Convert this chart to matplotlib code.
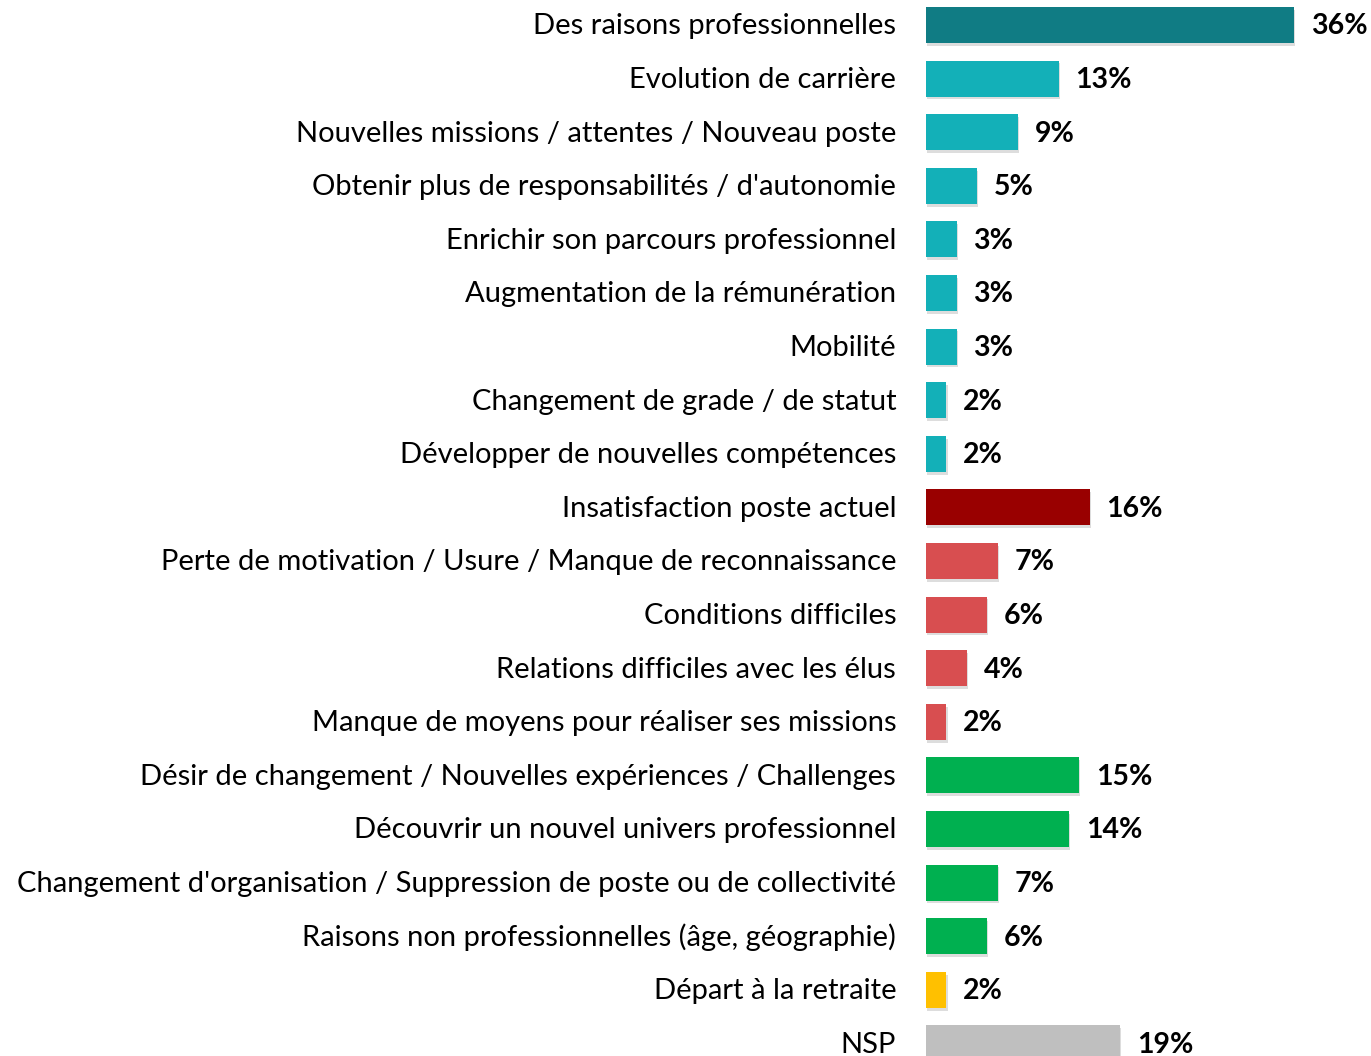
import matplotlib
matplotlib.use("Agg")
import matplotlib.pyplot as plt
import matplotlib.patheffects as pe

categories = [
    "Des raisons professionnelles",
    "Evolution de carrière",
    "Nouvelles missions / attentes / Nouveau poste",
    "Obtenir plus de responsabilités / d'autonomie",
    "Enrichir son parcours professionnel",
    "Augmentation de la rémunération",
    "Mobilité",
    "Changement de grade / de statut",
    "Développer de nouvelles compétences",
    "Insatisfaction poste actuel",
    "Perte de motivation / Usure / Manque de reconnaissance",
    "Conditions difficiles",
    "Relations difficiles avec les élus",
    "Manque de moyens pour réaliser ses missions",
    "Désir de changement / Nouvelles expériences / Challenges",
    "Découvrir un nouvel univers professionnel",
    "Changement d'organisation / Suppression de poste ou de collectivité",
    "Raisons non professionnelles (âge, géographie)",
    "Départ à la retraite",
    "NSP",
]
values = [36, 13, 9, 5, 3, 3, 3, 2, 2, 16, 7, 6, 4, 2, 15, 14, 7, 6, 2, 19]
groups = ["pro_total"] + ["pro"] * 8 + ["insat_total"] + ["insat"] * 4 + ["change"] * 4 + ["retraite", "nsp"]

palette = {
    "pro_total": "#107C84",
    "pro": "#13B0B8",
    "insat_total": "#990000",
    "insat": "#D84E50",
    "change": "#00B050",
    "retraite": "#FFC000",
    "nsp": "#BFBFBF",
}

plt.rcParams["font.family"] = ["Lato", "DejaVu Sans"]

fig = plt.figure(figsize=(13.71, 10.56), dpi=100)
ax = fig.add_axes([926 / 1371, 0, 445 / 1371, 1])

ypos = list(range(len(categories)))
bars = ax.barh(ypos, values, height=0.672,
               color=[palette[g] for g in groups])
for b in bars:
    b.set_path_effects([pe.SimplePatchShadow(offset=(0.8, -2), alpha=0.2, shadow_rgbFace="#555555"),
                        pe.Normal()])

for y, v in zip(ypos, values):
    ax.annotate(f"{v}%", xy=(v, y), xytext=(12, -1), textcoords="offset points",
                ha="left", va="center", fontsize=20.5, fontweight="bold", color="black")

for y, c in zip(ypos, categories):
    ax.annotate(c, xy=(0, y), xytext=(-21.5, -1), textcoords="offset points",
                ha="right", va="center", fontsize=21, color="black",
                annotation_clip=False)

ax.set_xlim(0, 445 / 10.22)
ax.set_ylim(19.235, -0.466)
ax.axis("off")

fig.savefig("out.png", dpi=100)
